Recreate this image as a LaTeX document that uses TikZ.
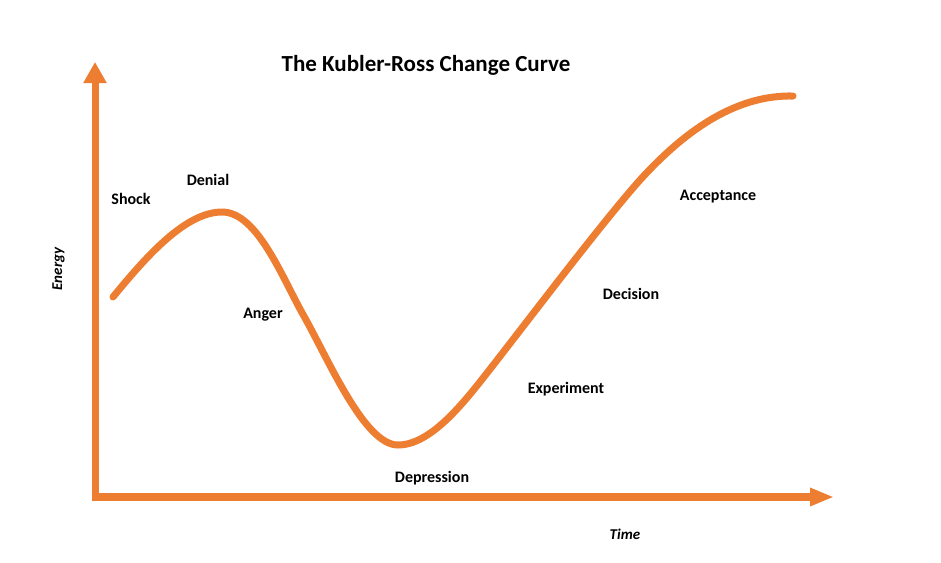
\documentclass[tikz,border=0pt]{standalone}
\usepackage{fontspec}
\setmainfont{Carlito}
\usepackage{xcolor}
\usetikzlibrary{arrows.meta}

\definecolor{curveorange}{HTML}{ED7D31}

\begin{document}
\begin{tikzpicture}[x=1pt, y=-1pt,
    stage/.style={font=\fontsize{16}{18}\selectfont\bfseries, anchor=base, inner sep=0pt},
    axislabel/.style={font=\fontsize{15}{17}\selectfont\bfseries\itshape, anchor=base, inner sep=0pt},
    axis/.style={color=curveorange}]
    \useasboundingbox (0,0) rectangle (941,562);
    % title
    \node[font=\fontsize{23}{26}\selectfont\bfseries, anchor=base, inner sep=0pt] (title) at (426,71) {The Kubler-Ross Change Curve};
    % axes
    \coordinate (origin) at (95,497);
    \coordinate (ytip) at (95,62);
    \coordinate (xtip) at (834,497);
    \draw[axis, line width=7pt, -{Triangle[length=21pt, width=22pt]}] ([yshift=4pt]origin) -- (ytip);
    \draw[axis, line width=8pt, -{Triangle[length=24pt, width=17pt]}] ([xshift=-3.5pt]origin) -- (xtip);
    \node[axislabel, rotate=90] (energy) at (62,269) {Energy};
    \node[axislabel] (time) at (625,539) {Time};
    % the curve
    \draw[line width=7pt, color=curveorange, line cap=round]
        (113,297) .. controls (145,258) and (185,212) .. (222,212)
        .. controls (258,212) and (283,280) .. (305,318)
        .. controls (330,363) and (365,445) .. (398,445)
        .. controls (430,445) and (462,405) .. (487,373)
        .. controls (527,322) and (600,225) .. (640,180)
        .. controls (690,125) and (740,95) .. (793,96);
    % stages
    \node[stage] (shock) at (131,204) {Shock};
    \node[stage] (denial) at (208,185) {Denial};
    \node[stage] (anger) at (263,318) {Anger};
    \node[stage] (depression) at (432,482) {Depression};
    \node[stage] (experiment) at (566,393) {Experiment};
    \node[stage] (decision) at (631,299) {Decision};
    \node[stage] (acceptance) at (718,200) {Acceptance};
\end{tikzpicture}
\end{document}
